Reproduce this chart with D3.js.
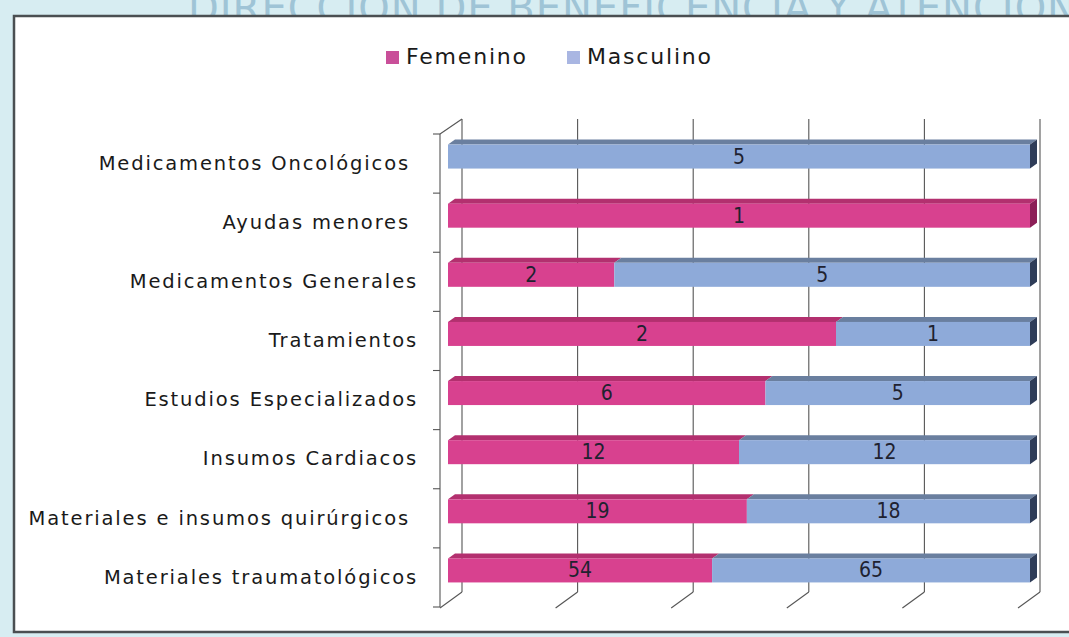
<!DOCTYPE html>
<html>
<head>
<meta charset="utf-8">
<script src="https://cdn.jsdelivr.net/npm/d3@7"></script>
<style>
  body { margin: 0; background: #ffffff; }
  svg { display: block; }
  .cat text { white-space: pre; }
</style>
</head>
<body>
<script>
// data
var categories = ["Medicamentos Oncológicos ", "Ayudas menores ", "Medicamentos Generales",
                  "Tratamientos", "Estudios Especializados", "Insumos Cardiacos",
                  "Materiales e insumos quirúrgicos ", "Materiales traumatológicos"];
var femenino  = [0, 1, 2, 2, 6, 12, 19, 54];
var masculino = [5, 0, 5, 1, 5, 12, 18, 65];
var seriesNames = ["Femenino", "Masculino"];
var pctTicks = [0, 0.2, 0.4, 0.6, 0.8, 1];

width = 1069;
height = 637;
var depth = { dx: 22, dy: -15 };   // back plane offset
var barDepth = { dx: 7, dy: -5 };

var front = { fill: { Femenino: "#d8418f", Masculino: "#8eaad9" },
              top:  { Femenino: "#b3306f", Masculino: "#6a7f9f" },
              cap:  { Femenino: "#8c1f57", Masculino: "#2e3c58" } };

var table = categories.map(function(c, i){
    return { cat: c, Femenino: femenino[i], Masculino: masculino[i] };
});
var series = d3.stack().keys(seriesNames).offset(d3.stackOffsetExpand)(table);

const svg = d3.select("body").append("svg")
    .attr("width", width)
    .attr("height", height)
    .style("font-family", "'DejaVu Sans', sans-serif");

// page background with the faded heading peeking out
svg.append("rect").attr("width", width).attr("height", height).attr("fill", "#d7edf2");
svg.append("text")
    .attr("x", 188).attr("y", 22)
    .attr("fill", "#9fc4d6")
    .attr("font-size", 40)
    .attr("letter-spacing", 1)
    .text("DIRECCIÓN DE BENEFICENCIA Y ATENCIÓN SOCIAL");

// chart frame
svg.append("rect")
    .attr("x", 14).attr("y", 16)
    .attr("width", width).attr("height", 616)
    .attr("fill", "#ffffff")
    .attr("stroke", "#4a4f52")
    .attr("stroke-width", 2.5);

// scales
var y = d3.scaleBand().domain(categories).range([134, 607]);
var xFront = d3.scaleLinear().domain([0, 1]).range([440, 1018]);
var xBack = d3.scaleLinear().domain([0, 1]).range([440 + depth.dx, 1018 + depth.dx]);
var xBar = d3.scaleLinear().domain([0, 1]).range([448, 1030]);
var barH = 24;
var barY = function(c){ return y(c) + y.bandwidth() / 2 - 19; };

// back-wall gridlines + floor ticks
var grid = svg.append("g").attr("stroke", "#555").attr("stroke-width", 1.1).attr("fill", "none");
grid.selectAll("line.v").data(pctTicks).join("line")
    .attr("class", "v")
    .attr("x1", d => xBack(d)).attr("x2", d => xBack(d))
    .attr("y1", y.range()[0] + depth.dy).attr("y2", y.range()[1] + depth.dy);
grid.selectAll("line.f").data(pctTicks).join("line")
    .attr("class", "f")
    .attr("x1", d => xBack(d)).attr("y1", y.range()[1] + depth.dy)
    .attr("x2", d => xFront(d)).attr("y2", y.range()[1] + 1);

// left (front) axis with diagonal at top
grid.append("line")
    .attr("x1", xFront(0)).attr("x2", xFront(0))
    .attr("y1", y.range()[0]).attr("y2", y.range()[1]);
grid.append("line")
    .attr("x1", xFront(0)).attr("y1", y.range()[0])
    .attr("x2", xBack(0)).attr("y2", y.range()[0] + depth.dy);
var bounds = d3.range(categories.length + 1).map(i => y.range()[0] + i * y.step());
grid.selectAll("line.t").data(bounds).join("line")
    .attr("class", "t")
    .attr("x1", xFront(0) - 7).attr("x2", xFront(0))
    .attr("y1", d => d).attr("y2", d => d);

// category labels
svg.append("g")
    .attr("class", "cat")
    .attr("transform", "translate(" + xFront(0) + ",0)")
    .call(d3.axisLeft(y).tickSize(0).tickPadding(22))
    .call(g => g.select(".domain").remove())
    .selectAll("text")
    .attr("fill", "#1a1a1a")
    .attr("font-size", 19.5)
    .attr("letter-spacing", 1.85)
    .attr("font-family", "'DejaVu Sans', sans-serif");

// bars
var segs = [];
series.forEach(function(s){
    s.forEach(function(d){
        if (d[1] - d[0] > 0) segs.push({ key: s.key, x0: d[0], x1: d[1], cat: d.data.cat, v: d.data[s.key] });
    });
});

var bars = svg.append("g");
bars.selectAll("polygon.top").data(segs).join("polygon")
    .attr("class", "top")
    .attr("fill", d => front.top[d.key])
    .attr("points", function(d){
        var a = xBar(d.x0), b = xBar(d.x1), t = barY(d.cat);
        return [[a, t], [a + barDepth.dx, t + barDepth.dy], [b + barDepth.dx, t + barDepth.dy], [b, t]].join(" ");
    });
bars.selectAll("rect.front").data(segs).join("rect")
    .attr("class", "front")
    .attr("x", d => xBar(d.x0))
    .attr("y", d => barY(d.cat))
    .attr("width", d => xBar(d.x1) - xBar(d.x0))
    .attr("height", barH)
    .attr("fill", d => front.fill[d.key]);
bars.selectAll("polygon.cap").data(segs.filter(d => d.x1 === 1)).join("polygon")
    .attr("class", "cap")
    .attr("fill", d => front.cap[d.key])
    .attr("points", function(d){
        var b = xBar(1), t = barY(d.cat);
        return [[b, t], [b + barDepth.dx, t + barDepth.dy], [b + barDepth.dx, t + barH + barDepth.dy], [b, t + barH]].join(" ");
    });

// value labels
bars.selectAll("text").data(segs).join("text")
    .attr("x", d => (xBar(d.x0) + xBar(d.x1)) / 2)
    .attr("y", d => barY(d.cat) + barH / 2 + 1)
    .attr("text-anchor", "middle")
    .attr("dominant-baseline", "middle")
    .attr("font-size", 21)
    .attr("font-family", "'Liberation Sans Narrow', 'DejaVu Sans Condensed', sans-serif")
    .attr("fill", "#1f2230")
    .text(d => d.v);

// legend
var legend = svg.append("g").attr("transform", "translate(386,51)");
var legX = [0, 181];
legend.selectAll("rect").data(seriesNames).join("rect")
    .attr("x", (d, i) => legX[i]).attr("y", 0)
    .attr("width", 13).attr("height", 13)
    .attr("fill", (d, i) => i === 0 ? "#c94f99" : "#a9b6e2");
legend.selectAll("text").data(seriesNames).join("text")
    .attr("x", (d, i) => legX[i] + 20).attr("y", 7)
    .attr("dominant-baseline", "middle")
    .attr("font-size", 22)
    .attr("letter-spacing", 1.8)
    .attr("fill", "#1a1a1a")
    .text(d => d);
</script>
</body>
</html>
